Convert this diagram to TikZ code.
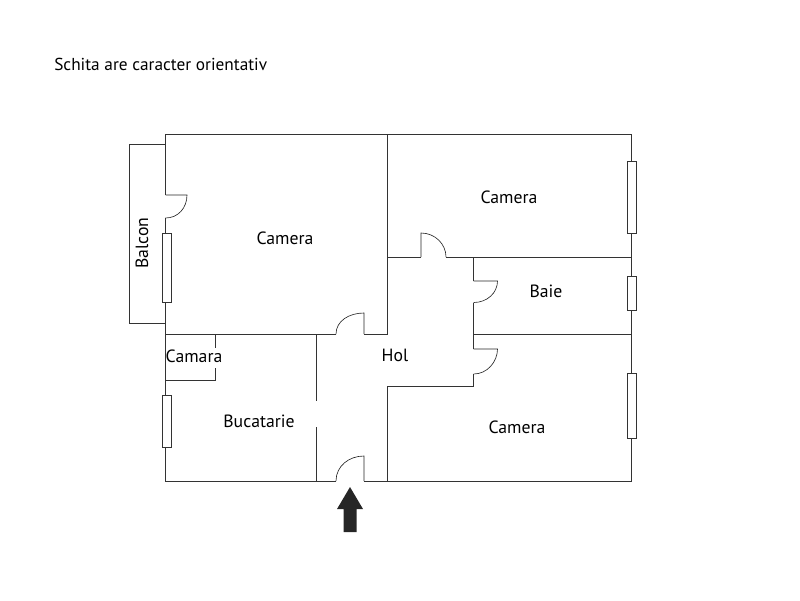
\documentclass[tikz,border=0pt]{standalone}
\usepackage{fontspec}
\setmainfont{PT Sans}
\tikzset{
    wall/.style={draw=black!80, line width=.5pt},
    door/.style={draw=black!85, line width=.45pt},
    window/.style={draw=black!80, fill=white, line width=.45pt},
    room/.style={font=\fontsize{12.6}{14}\selectfont, inner sep=0pt, text=black}
}
\begin{document}
\begin{tikzpicture}[x=.025cm, y=-.025cm]
    \useasboundingbox (0, 0) rectangle (800, 600);

    \node[room, anchor=west, font=\fontsize{12.3}{14}\selectfont] (title) at (54, 64) {Schita are caracter orientativ};

    % outer walls
    \draw[wall] (165.5, 218) -- (165.5, 481) -- (336, 481); % left, bottom
    \draw[wall] (364, 481) -- (631, 481) -- (631, 134) -- (165.5, 134) -- (165.5, 195); % bottom, right, top
    \draw[wall] (165.5, 144) -- (129, 144) -- (129, 323) -- (165.5, 323); % balcony

    % inner walls
    \draw[wall] (387, 134) -- (387, 334) -- (364, 334);
    \draw[wall] (336, 334) -- (165.5, 334);
    \draw[wall] (215.7, 334) -- (215.7, 348);
    \draw[wall] (215.7, 368) -- (215.7, 380) -- (165.5, 380); % pantry
    \draw[wall] (316.5, 334) -- (316.5, 401);
    \draw[wall] (316.5, 427) -- (316.5, 481); % kitchen
    \draw[wall] (387, 481) -- (387, 386) -- (473.7, 386) -- (473.7, 374);
    \draw[wall] (473.7, 349) -- (473.7, 302.5);
    \draw[wall] (473.7, 281) -- (473.7, 257);
    \draw[wall] (387, 257) -- (421, 257);
    \draw[wall] (446, 257) -- (631, 257);
    \draw[wall] (473.7, 334) -- (631, 334);

    % doors
    \draw[door] (165.5, 195) -- (187, 195) .. controls (187, 208) and (178, 218) .. (165.5, 218); % balcony
    \draw[door] (364, 334) -- (364, 313) .. controls (349, 313) and (336, 321) .. (336, 334); % big room
    \draw[door] (364, 481) -- (364, 456) .. controls (349, 456) and (336, 466) .. (336, 481); % entrance
    \draw[door] (421, 257) -- (421, 233) .. controls (435, 233) and (446, 244) .. (446, 257); % upper room
    \draw[door] (473.7, 281) -- (497.5, 281) .. controls (497.5, 293) and (487, 302.5) .. (473.7, 302.5); % bath
    \draw[door] (473.7, 349) -- (497.5, 349) .. controls (497.5, 362) and (487, 374) .. (473.7, 374); % lower room

    % windows
    \draw[window] (162.5, 233.5) rectangle (171, 302.5);
    \draw[window] (162.5, 395.5) rectangle (171, 447);
    \draw[window] (627.5, 161) rectangle (636.5, 233.5);
    \draw[window] (627.5, 276.5) rectangle (636.5, 310);
    \draw[window] (627.5, 373.5) rectangle (636.5, 438.5);

    % entrance arrow
    \fill[black!85] (350, 487) -- (363, 509) -- (356.5, 509) -- (356.5, 532) -- (343.5, 532) -- (343.5, 509) -- (337, 509) -- cycle;

    % room names
    \node[room] (balcon) at (142, 243) [rotate=90] {Balcon};
    \node[room] (camerabig) at (285, 238) {Camera};
    \node[room] (cameraup) at (509, 197) {Camera};
    \node[room] (baie) at (546, 291) {Baie};
    \node[room] (camara) at (194, 356) {Camara};
    \node[room] (hol) at (395, 355) {Hol};
    \node[room] (bucatarie) at (259, 421) {Bucatarie};
    \node[room] (cameradown) at (517, 427) {Camera};
\end{tikzpicture}
\end{document}
